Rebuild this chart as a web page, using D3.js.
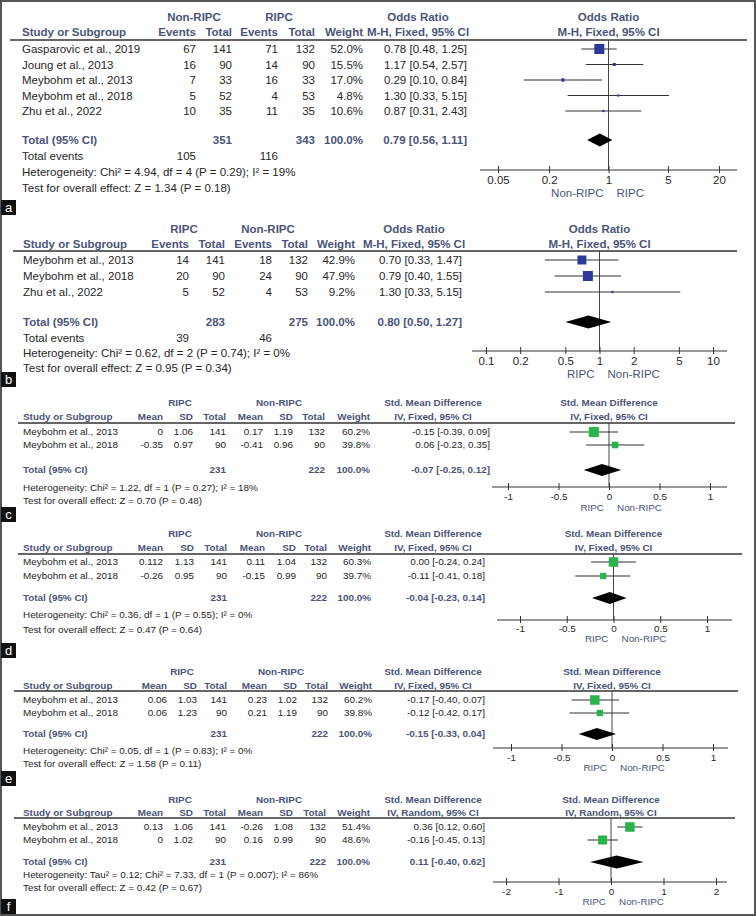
<!DOCTYPE html>
<html><head><meta charset="utf-8">
<script src="https://cdn.jsdelivr.net/npm/d3@7"></script>
<style>body{margin:0;background:#fff}svg{display:block}text{font-family:"Liberation Sans",Arial,sans-serif}</style>
</head><body><svg id="c" width="756" height="916"></svg>
<script>
// ---------- Panel a (Odds ratio, Non-RIPC vs RIPC) ----------
const aStudy = ["Gasparovic et al., 2019","Joung et al., 2013","Meybohm et al., 2013","Meybohm et al., 2018","Zhu et al., 2022"];
const aEv1 = [67,16,7,5,10];
const aN1 = [141,90,33,52,35];
const aEv2 = [71,14,16,4,11];
const aN2 = [132,90,33,53,35];
const aWeight = [52.0,15.5,17.0,4.8,10.6];
const aEst = [0.78,1.17,0.29,1.30,0.87];
const aLow = [0.48,0.54,0.10,0.33,0.31];
const aHigh = [1.25,2.57,0.84,5.15,2.43];
const aTotals = [351,343];
const aTotEvents = [105,116];
const aPooled = [0.79,0.56,1.11];
const aTicks = [0.05,0.2,1,5,20];
const aGroups = ["Non-RIPC","RIPC"];
const aHet = "Heterogeneity: Chi\u00B2 = 4.94, df = 4 (P = 0.29); I\u00B2 = 19%";
const aTest = "Test for overall effect: Z = 1.34 (P = 0.18)";

// ---------- Panel b ----------
const bStudy = ["Meybohm et al., 2013","Meybohm et al., 2018","Zhu et al., 2022"];
const bEv1 = [14,20,5];
const bN1 = [141,90,52];
const bEv2 = [18,24,4];
const bN2 = [132,90,53];
const bWeight = [42.9,47.9,9.2];
const bEst = [0.70,0.79,1.30];
const bLow = [0.33,0.40,0.33];
const bHigh = [1.47,1.55,5.15];
const bTotals = [283,275];
const bTotEvents = [39,46];
const bPooled = [0.80,0.50,1.27];
const bTicks = [0.1,0.2,0.5,1,2,5,10];
const bGroups = ["RIPC","Non-RIPC"];
const bHet = "Heterogeneity: Chi\u00B2 = 0.62, df = 2 (P = 0.74); I\u00B2 = 0%";
const bTest = "Test for overall effect: Z = 0.95 (P = 0.34)";

// ---------- Panels c-f (Std. mean difference) ----------
const smdStudy = ["Meybohm et al., 2013","Meybohm et al., 2018"];
const smdGroups = ["RIPC","Non-RIPC"];
const smdTotals = [231,222];

const cMean1 = [0,-0.35], cSD1 = [1.06,0.97], cN1 = [141,90];
const cMean2 = [0.17,-0.41], cSD2 = [1.19,0.96], cN2 = [132,90];
const cWeight = [60.2,39.8], cEst = [-0.15,0.06], cLow = [-0.39,-0.23], cHigh = [0.09,0.35];
const cPooled = [-0.07,-0.25,0.12];
const cTicks = [-1,-0.5,0,0.5,1];
const cHet = "Heterogeneity: Chi\u00B2 = 1.22, df = 1 (P = 0.27); I\u00B2 = 18%";
const cTest = "Test for overall effect: Z = 0.70 (P = 0.48)";

const dMean1 = [0.112,-0.26], dSD1 = [1.13,0.95], dN1 = [141,90];
const dMean2 = [0.11,-0.15], dSD2 = [1.04,0.99], dN2 = [132,90];
const dWeight = [60.3,39.7], dEst = [0.00,-0.11], dLow = [-0.24,-0.41], dHigh = [0.24,0.18];
const dPooled = [-0.04,-0.23,0.14];
const dTicks = [-1,-0.5,0,0.5,1];
const dHet = "Heterogeneity: Chi\u00B2 = 0.36, df = 1 (P = 0.55); I\u00B2 = 0%";
const dTest = "Test for overall effect: Z = 0.47 (P = 0.64)";

const eMean1 = [0.06,0.06], eSD1 = [1.03,1.23], eN1 = [141,90];
const eMean2 = [0.23,0.21], eSD2 = [1.02,1.19], eN2 = [132,90];
const eWeight = [60.2,39.8], eEst = [-0.17,-0.12], eLow = [-0.40,-0.42], eHigh = [0.07,0.17];
const ePooled = [-0.15,-0.33,0.04];
const eTicks = [-1,-0.5,0,0.5,1];
const eHet = "Heterogeneity: Chi\u00B2 = 0.05, df = 1 (P = 0.83); I\u00B2 = 0%";
const eTest = "Test for overall effect: Z = 1.58 (P = 0.11)";

const fMean1 = [0.13,0], fSD1 = [1.06,1.02], fN1 = [141,90];
const fMean2 = [-0.26,0.16], fSD2 = [1.08,0.99], fN2 = [132,90];
const fWeight = [51.4,48.6], fEst = [0.36,-0.16], fLow = [0.12,-0.45], fHigh = [0.60,0.13];
const fPooled = [0.11,-0.40,0.62];
const fTicks = [-2,-1,0,1,2];
const fHet = "Heterogeneity: Tau\u00B2 = 0.12; Chi\u00B2 = 7.33, df = 1 (P = 0.007); I\u00B2 = 86%";
const fTest = "Test for overall effect: Z = 0.42 (P = 0.67)";

// ---------- drawing ----------
const HEAD = "#4a5478", TXT = "#262626", LINE = "#333";
const BLUE = "#2b3a9a", GREEN = "#29b34b";
const svg = d3.select("#c");
svg.append("rect").attr("x",1).attr("y",1).attr("width",754).attr("height",914)
  .attr("fill","#fff").attr("stroke","#555").attr("stroke-width",2);

function txt(g,x,y,s,o){
  return g.append("text").attr("x",x).attr("y",y).attr("dy","0.35em")
    .attr("text-anchor",o.anchor||"start").attr("font-size",o.fs)
    .attr("font-weight",o.bold?"bold":"normal").attr("fill",o.fill||TXT).text(s);
}
const f2 = v => v.toFixed(2);
const ci = (e,l,h) => `${f2(e)} [${f2(l)}, ${f2(h)}]`;

function drawPanel(P,L){
  const g = svg.append("g");
  const fs = L.fs;
  const x = (P.log ? d3.scaleLog() : d3.scaleLinear()).domain(P.domain).range(L.range);
  const cx = x(P.log ? 1 : 0);
  const H = {fs,bold:1,fill:HEAD};
  // headers
  P.groups.forEach((s,i)=>txt(g,L.grpX[i],L.grpY,s,{...H,anchor:"middle"}));
  txt(g,L.estHX,L.grpY,P.title,{...H,anchor:"middle"});
  txt(g,cx,L.grpY,P.title,{...H,anchor:"middle"});
  txt(g,L.xStudy,L.colY,"Study or Subgroup",H);
  P.colHeads.forEach((s,i)=>txt(g,L.cols[i],L.colY,s,{...H,anchor:"end"}));
  txt(g,L.estHX,L.colY,P.method,{...H,anchor:"middle"});
  txt(g,cx,L.colY,P.method,{...H,anchor:"middle"});
  g.append("line").attr("x1",L.lineX[0]).attr("x2",L.lineX[1]).attr("y1",L.lineY).attr("y2",L.lineY)
    .attr("stroke",LINE).attr("stroke-width",1.5);
  // rows
  const maxW = d3.max(P.weight);
  P.study.forEach((s,i)=>{
    const y = L.rows[i];
    txt(g,L.xStudy,y,s,{fs});
    P.cells[i].forEach((c,j)=>txt(g,L.cols[j],y,c,{fs,anchor:"end"}));
    txt(g,L.cols[P.cells[i].length],y,P.weight[i].toFixed(1)+"%",{fs,anchor:"end"});
    txt(g,L.estR,y,ci(P.est[i],P.low[i],P.high[i]),{fs,anchor:"end"});
  });
  // totals
  txt(g,L.xStudy,L.totalY,"Total (95% CI)",H);
  P.totals.forEach((v,i)=>txt(g,L.cols[P.totCols[i]],L.totalY,v,{...H,anchor:"end"}));
  txt(g,L.cols[P.cells[0].length],L.totalY,"100.0%",{...H,anchor:"end"});
  txt(g,L.estR,L.totalY,ci(P.pooled[0],P.pooled[1],P.pooled[2]),{...H,anchor:"end"});
  if(P.totEvents){
    txt(g,L.xStudy,L.totEvY,"Total events",{fs});
    P.totEvents.forEach((v,i)=>txt(g,L.cols[i*2],L.totEvY,v,{fs,anchor:"end"}));
  }
  txt(g,L.xStudy,L.hetY,P.het,{fs});
  txt(g,L.xStudy,L.testY,P.test,{fs});
  // plot: null line
  g.append("line").attr("x1",cx).attr("x2",cx).attr("y1",L.lineY).attr("y2",L.axisY)
    .attr("stroke","#444").attr("stroke-width",1);
  // CI lines and squares
  P.study.forEach((s,i)=>{
    const y = L.rows[i];
    g.append("line").attr("x1",x(P.low[i])).attr("x2",x(P.high[i])).attr("y1",y).attr("y2",y)
      .attr("stroke",LINE).attr("stroke-width",1);
    const sz = Math.max(2.2, L.boxMax*P.weight[i]/maxW);
    g.append("rect").attr("x",x(P.est[i])-sz/2).attr("y",y-sz/2).attr("width",sz).attr("height",sz)
      .attr("fill",P.color);
  });
  // diamond
  const dh = L.diamondH/2, ty = L.totalY;
  g.append("polygon").attr("points",[[x(P.pooled[1]),ty],[x(P.pooled[0]),ty-dh],[x(P.pooled[2]),ty],[x(P.pooled[0]),ty+dh]].map(p=>p.join(",")).join(" "))
    .attr("fill","#000");
  // axis
  const ax = d3.axisBottom(x).tickValues(P.ticks).tickFormat(d=>String(d))
    .tickSizeInner(3).tickSizeOuter(0).tickPadding(L.tickPad);
  const ag = g.append("g").attr("transform",`translate(0,${L.axisY})`).call(ax);
  ag.attr("font-size",fs).attr("font-family","Liberation Sans, Arial, sans-serif");
  ag.select(".domain").remove();
  ag.selectAll(".tick line").attr("y1",-4).attr("y2",3).attr("stroke",LINE);
  ag.selectAll(".tick text").attr("fill",TXT);
  g.append("line").attr("x1",L.axisX[0]).attr("x2",L.axisX[1]).attr("y1",L.axisY).attr("y2",L.axisY)
    .attr("stroke",LINE).attr("stroke-width",1);
  txt(g,cx-5,L.axisY+L.dirDy,P.dirs[0],{fs,fill:HEAD,anchor:"end"});
  txt(g,cx+8,L.axisY+L.dirDy,P.dirs[1],{fs,fill:HEAD});
  // panel label
  g.append("rect").attr("x",1).attr("y",L.labelY).attr("width",15).attr("height",15).attr("fill","#111");
  g.append("text").attr("x",8.5).attr("y",L.labelY+7.5).attr("dy","0.35em").attr("text-anchor","middle")
    .attr("font-size",13).attr("fill","#fff").text(P.label);
}

function dichot(study,ev1,n1,ev2,n2){
  return study.map((s,i)=>[ev1[i],n1[i],ev2[i],n2[i]]);
}
function contin(m1,s1,n1,m2,s2,n2){
  return m1.map((v,i)=>[String(m1[i]),String(s1[i]),n1[i],String(m2[i]),String(s2[i]),n2[i]]);
}

const orHeads = ["Events","Total","Events","Total","Weight"];
const smdHeads = ["Mean","SD","Total","Mean","SD","Total","Weight"];

drawPanel({label:"a",log:true,domain:[0.05,20],ticks:aTicks,study:aStudy,cells:dichot(aStudy,aEv1,aN1,aEv2,aN2),
  weight:aWeight,est:aEst,low:aLow,high:aHigh,totals:aTotals,totCols:[1,3],totEvents:aTotEvents,pooled:aPooled,
  groups:aGroups,colHeads:orHeads,title:"Odds Ratio",method:"M-H, Fixed, 95% CI",het:aHet,test:aTest,
  dirs:["Non-RIPC","RIPC"],color:BLUE},
 {fs:11.5,grpY:17,colY:32,lineY:40,rows:[49,64.5,80,95.5,111],totalY:140,totEvY:156,hetY:172,testY:188,labelY:200,
  xStudy:22,cols:[196,232,278,315,363],estR:467,estHX:418,grpX:[194,279],lineX:[10,747],
  axisY:170,axisX:[480,737],range:[498,719],diamondH:13,boxMax:10,tickPad:3,dirDy:23});

drawPanel({label:"b",log:true,domain:[0.1,10],ticks:bTicks,study:bStudy,cells:dichot(bStudy,bEv1,bN1,bEv2,bN2),
  weight:bWeight,est:bEst,low:bLow,high:bHigh,totals:bTotals,totCols:[1,3],totEvents:bTotEvents,pooled:bPooled,
  groups:bGroups,colHeads:orHeads,title:"Odds Ratio",method:"M-H, Fixed, 95% CI",het:bHet,test:bTest,
  dirs:["RIPC","Non-RIPC"],color:BLUE},
 {fs:11.5,grpY:229,colY:244,lineY:251,rows:[260,276,292],totalY:322,totEvY:338,hetY:353,testY:368,labelY:372,
  xStudy:23,cols:[189,225,272,308,355],estR:462,estHX:414,grpX:[184,268],lineX:[13,737],
  axisY:351,axisX:[472,727],range:[486,713],diamondH:13,boxMax:10,tickPad:3,dirDy:23});

const smdBase = {study:smdStudy,totals:smdTotals,totCols:[2,5],groups:smdGroups,colHeads:smdHeads,
  title:"Std. Mean Difference",method:"IV, Fixed, 95% CI",dirs:["RIPC","Non-RIPC"],color:GREEN,log:false};

drawPanel({...smdBase,label:"c",domain:[-1,1],ticks:cTicks,cells:contin(cMean1,cSD1,cN1,cMean2,cSD2,cN2),
  weight:cWeight,est:cEst,low:cLow,high:cHigh,pooled:cPooled,het:cHet,test:cTest},
 {fs:9.9,grpY:403,colY:417,lineY:423,rows:[432,445],totalY:470,hetY:488,testY:501,labelY:507,
  xStudy:23,cols:[163,193,226,263,293,325,370],estR:490,estHX:433,grpX:[180,279],lineX:[18,735],
  axisY:487,axisX:[492,727],range:[508,710],diamondH:12,boxMax:10,tickPad:3,dirDy:21});

drawPanel({...smdBase,label:"d",domain:[-1,1],ticks:dTicks,cells:contin(dMean1,dSD1,dN1,dMean2,dSD2,dN2),
  weight:dWeight,est:dEst,low:dLow,high:dHigh,pooled:dPooled,het:dHet,test:dTest},
 {fs:9.9,grpY:534,colY:548,lineY:554,rows:[562,576],totalY:598,hetY:615,testY:630,labelY:643,
  xStudy:23,cols:[163,194,227,265,296,327,371],estR:485,estHX:433,grpX:[180,279],lineX:[18,742],
  axisY:620,axisX:[497,732],range:[520,707],diamondH:12,boxMax:9.5,tickPad:2,dirDy:19});

drawPanel({...smdBase,label:"e",domain:[-1,1],ticks:eTicks,cells:contin(eMean1,eSD1,eN1,eMean2,eSD2,eN2),
  weight:eWeight,est:eEst,low:eLow,high:eHigh,pooled:ePooled,het:eHet,test:eTest},
 {fs:9.9,grpY:672,colY:686,lineY:691,rows:[700,713],totalY:734,hetY:751,testY:764,labelY:771,
  xStudy:23,cols:[167,197,227,267,297,328,372],estR:485,estHX:433,grpX:[182,281],lineX:[14,738],
  axisY:748,axisX:[493,728],range:[511,713],diamondH:12,boxMax:9.5,tickPad:3,dirDy:20});

drawPanel({...smdBase,method:"IV, Random, 95% CI",label:"f",domain:[-2,2],ticks:fTicks,cells:contin(fMean1,fSD1,fN1,fMean2,fSD2,fN2),
  weight:fWeight,est:fEst,low:fLow,high:fHigh,pooled:fPooled,het:fHet,test:fTest},
 {fs:9.9,grpY:800,colY:813,lineY:818,rows:[827,840],totalY:862,hetY:875,testY:888,labelY:899,
  xStudy:23,cols:[163,193,226,263,293,326,370],estR:485,estHX:433,grpX:[180,279],lineX:[14,735],
  axisY:882,axisX:[493,727],range:[506,716],diamondH:13,boxMax:9.5,tickPad:3,dirDy:20});
</script></body></html>
